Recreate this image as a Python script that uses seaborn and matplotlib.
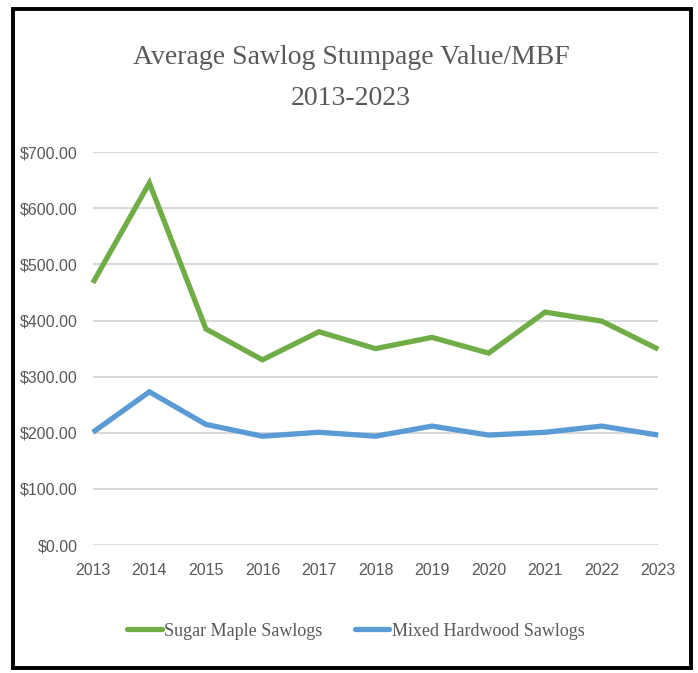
import matplotlib
matplotlib.use("Agg")
from matplotlib import pyplot as plt
from matplotlib.patches import Rectangle
import seaborn as sns
import pandas as pd

years = [2013, 2014, 2015, 2016, 2017, 2018, 2019, 2020, 2021, 2022, 2023]
sugar_maple = [467, 645, 385, 330, 380, 350, 370, 342, 415, 399, 349]
mixed_hardwood = [201, 273, 215, 194, 201, 194, 212, 196, 201, 212, 196]
series_names = ["Sugar Maple Sawlogs", "Mixed Hardwood Sawlogs"]
y_ticks = [0, 100, 200, 300, 400, 500, 600, 700]

df = pd.DataFrame({
    "year": years * 2,
    "value": sugar_maple + mixed_hardwood,
    "series": [series_names[0]] * len(years) + [series_names[1]] * len(years),
})

sns.set_style("white")
plt.rcParams['font.family'] = ['Liberation Sans Narrow', 'Liberation Sans', 'DejaVu Sans']

fig = plt.figure(figsize=(6.98, 6.73), dpi=100)
ax = fig.add_axes([0.133, 0.19, 0.81, 0.584])

palette = {series_names[0]: "#70AD47", series_names[1]: "#5B9BD5"}
sns.lineplot(data=df, x="year", y="value", hue="series", palette=palette,
             linewidth=3.8, ax=ax, clip_on=False, legend=False)
for ln in ax.get_lines():
    ln.set_solid_capstyle("butt")
    ln.set_solid_joinstyle("miter")

ax.set_xlim(years[0], years[-1])
ax.set_ylim(0, 700)
ax.set_yticks(y_ticks)
ax.set_yticklabels([f"${v:.2f}" for v in y_ticks])
ax.set_xticks(years)
ax.set_xticklabels([str(y) for y in years])
ax.yaxis.grid(True, color="#D9D9D9", linewidth=1.5)
ax.set_axisbelow(True)
ax.set_xlabel("")
ax.set_ylabel("")
ax.tick_params(axis="both", colors="#595959", labelsize=11.5, length=0)
ax.tick_params(axis="y", pad=11)
ax.tick_params(axis="x", pad=13)
sns.despine(left=True, bottom=True)

serif = ['Liberation Serif', 'DejaVu Serif']
fig.text(0.503, 0.914, "Average Sawlog Stumpage Value/MBF", ha="center", va="center",
         fontsize=20, color="#595959", family=serif)
fig.text(0.503, 0.854, "2013-2023", ha="center", va="center",
         fontsize=20, color="#595959", family=serif)

handles = [plt.Line2D([], [], color=palette[n], linewidth=3.8) for n in series_names]
fig.legend(handles, series_names, loc="center", bbox_to_anchor=(0.51, 0.062),
           ncol=2, frameon=False, handlelength=1.9, handletextpad=0.15, columnspacing=1.8,
           prop={'family': serif, 'size': 13}, labelcolor="#595959")

fig.patches.append(Rectangle((0.018, 0.007), 0.972, 0.98, transform=fig.transFigure,
                             fill=False, edgecolor="black", linewidth=2.8))

fig.savefig("out.png", dpi=100)
